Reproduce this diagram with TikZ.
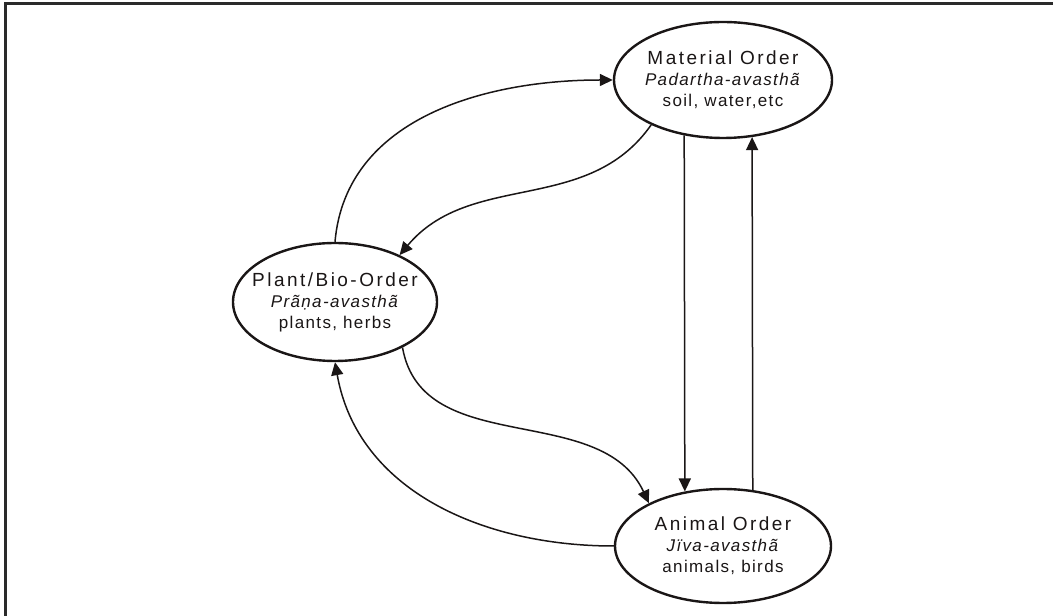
\documentclass[tikz,border=0pt]{standalone}
\usepackage{fontspec}
\setmainfont{Liberation Sans}[LetterSpace=8]
\newfontfamily\headfont{Liberation Sans}[LetterSpace=13]
\usetikzlibrary{arrows.meta,shapes.geometric}
\definecolor{OrdInk}{HTML}{1A1616}
\definecolor{OrdFrame}{HTML}{2A2A2A}
\tikzset{
  flow/.style={-{Triangle[length=13pt,width=12pt]},OrdInk,line width=1.5pt},
  order/.style={ellipse,draw=OrdInk,line width=2.4pt,fill=white,
                inner xsep=-40pt,inner ysep=-20pt,
                text=OrdInk,align=center,font=\fontsize{17}{21}\selectfont},
  frame/.style={OrdFrame,line width=3pt},
}
\newcommand{\orderhead}[1]{{\headfont\fontsize{19}{23}\selectfont #1}}

\begin{document}
\begin{tikzpicture}[x=1pt,y=1pt]
    \useasboundingbox (0,0) rectangle (1053,616);
    \draw[frame] (5,0) -- (5,612) -- (1053,612);

    % the three orders
    \node[order,minimum width=218pt,minimum height=116pt] (material) at (723,536)
      {\orderhead{Material Order}\\\textit{Padartha-avasthã}\\soil, water,etc};
    \node[order,minimum width=204pt,minimum height=118pt] (plant) at (335,314)
      {\orderhead{Plant/Bio-Order}\\\textit{Prãṇa-avasthã}\\plants, herbs};
    \node[order,minimum width=216pt,minimum height=114pt] (animal) at (723,70)
      {\orderhead{Animal Order}\\\textit{Jïva-avasthã}\\animals, birds};

    % cycles between them
    \draw[flow] (plant.90) to[out=85,in=180] (material.180);
    \draw[flow] (material.212) to[out=235,in=50] (plant.36);
    \draw[flow] (plant.-34) to[out=-80,in=115] (animal.150);
    \draw[flow] (animal.180) to[out=180,in=-80] (plant.270);
    \draw[flow] (material.235) -- (animal.125.6);
    \draw[flow] (animal.62.2) -- (material.297.4);
\end{tikzpicture}
\end{document}
